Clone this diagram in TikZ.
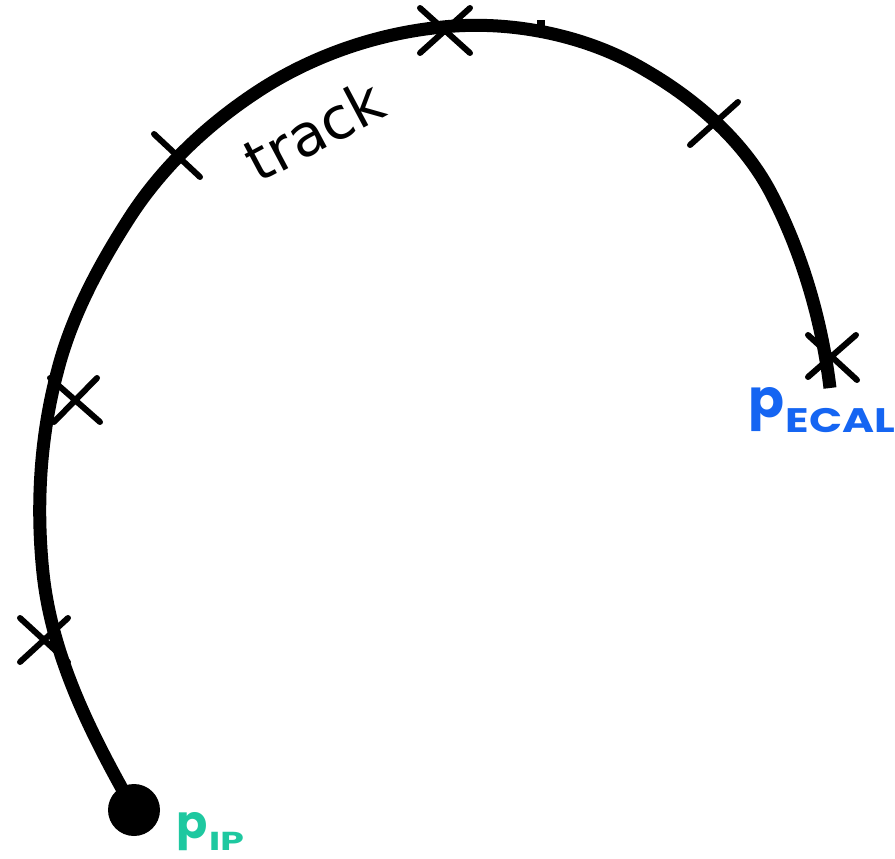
\documentclass[tikz,border=0pt]{standalone}
\usepackage{fontspec}
\usepackage{graphicx}
\usetikzlibrary{calc}
\newfontfamily\labfont{Poppins}
\newfontfamily\trackfont{DejaVu Sans}
\definecolor{ipteal}{HTML}{1EC8A0}
\definecolor{ecalblue}{HTML}{1565F2}
\tikzset{
  trackline/.style={line width=13pt, line cap=butt, line join=round},
  hitmark/.style={line width=6pt, line cap=round},
  plabel/.style={inner sep=0pt, outer sep=0pt, font=\labfont\bfseries},
}
\newcommand{\subcaps}[4]{\raisebox{-#2}{\scalebox{#3}[1]{\fontsize{#1}{#1}\selectfont #4}}}
\begin{document}
\begin{tikzpicture}[x=1pt,y=-1pt]
\useasboundingbox (0,0) rectangle (895,859);
% track
\coordinate (t0) at (134,810);
\coordinate (t1) at (43,573);
\coordinate (t2) at (57,373);
\coordinate (t3) at (130,217);
\coordinate (t4) at (260,90);
\coordinate (t5) at (443,27);
\coordinate (t6) at (645,70);
\coordinate (t7) at (773,197);
\coordinate (t8) at (830,388);
\draw[trackline] (t0)
  .. controls (92,736) and (52,658) .. (t1)
  .. controls (36,506) and (40,438) .. (t2)
  .. controls (71,317) and (99,265) .. (t3)
  .. controls (163,166) and (209,123) .. (t4)
  .. controls (314,55) and (379,33) .. (t5)
  .. controls (511,20) and (586,35) .. (t6)
  .. controls (697,100) and (746,143) .. (t7)
  .. controls (803,256) and (822,322) .. (t8);
% small nub on the track
\fill (537,20) rectangle (545,27);
% start point
\node[circle, fill=black, minimum size=52pt, inner sep=0pt] (ip) at (t0) {};
% hit marks
\coordinate (h1) at (44,640);
\draw[hitmark] ($(h1)+(-24,-22)$) -- ($(h1)+(24,22)$) ($(h1)+(-24,22)$) -- ($(h1)+(24,-22)$);
\coordinate (h2) at (75,400);
\draw[hitmark] ($(h2)+(-25,-22)$) -- ($(h2)+(25,22)$) ($(h2)+(-21,22)$) -- ($(h2)+(22,-22)$);
\coordinate (h3) at (177,155);
\draw[hitmark] ($(h3)+(-23,-21)$) -- ($(h3)+(23,22)$);
\coordinate (h4) at (445,30);
\draw[hitmark] ($(h4)+(-25,-22)$) -- ($(h4)+(25,23)$) ($(h4)+(-25,23)$) -- ($(h4)+(25,-22)$);
\coordinate (h5) at (714,123);
\draw[hitmark] ($(h5)+(-24,22)$) -- ($(h5)+(24,-21)$);
\coordinate (h6) at (832,357);
\draw[hitmark] ($(h6)+(-24,-22)$) -- ($(h6)+(25,23)$) ($(h6)+(24,-22)$) -- ($(h6)+(-24,20)$);
% labels
\node[plabel, text=ipteal, anchor=base west] (pip) at (176,838)
  {\fontsize{46}{46}\selectfont p\hspace{2pt}\subcaps{26}{12pt}{1.45}{IP}};
\node[plabel, text=ecalblue, anchor=base west] (pecal) at (748,417)
  {\fontsize{53}{53}\selectfont p\hspace{2pt}\subcaps{34}{15pt}{1.28}{ECAL}};
\node[font=\trackfont\fontsize{58}{58}\selectfont, rotate=28, inner sep=0pt] (tracklabel) at (314,130) {track};
\end{tikzpicture}
\end{document}
